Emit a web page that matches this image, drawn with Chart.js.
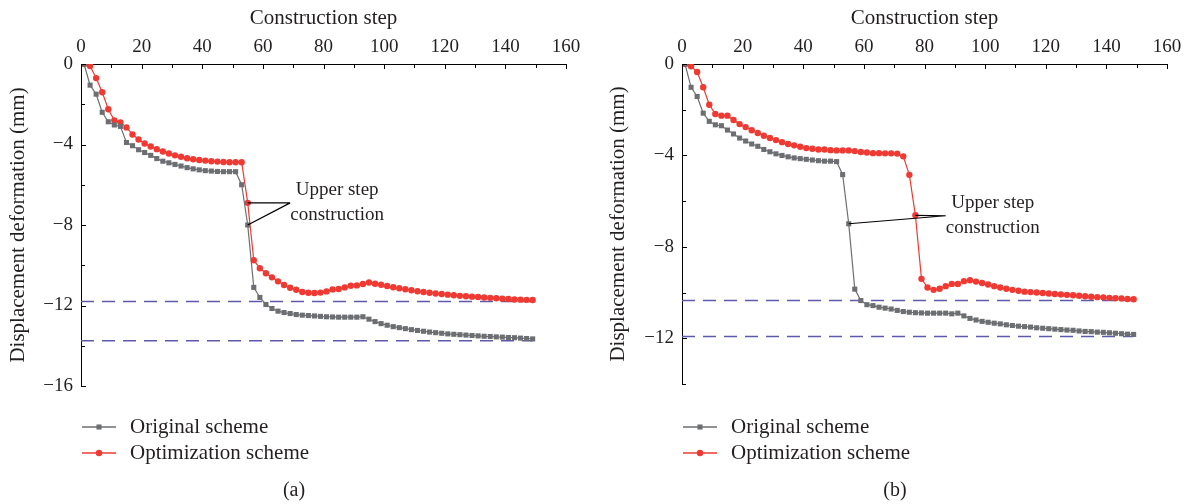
<!DOCTYPE html>
<html>
<head>
<meta charset="utf-8">
<script src="https://cdn.jsdelivr.net/npm/chart.js@4.4.0/dist/chart.umd.min.js"></script>
<style>
  body { margin: 0; width: 1191px; height: 504px; overflow: hidden; background: #fff; }
  .panel { position: absolute; top: 0; height: 504px; }
</style>
</head>
<body>
<div class="panel" style="left:0;width:600px"><canvas id="chartA" width="600" height="504"></canvas></div>
<div class="panel" style="left:600px;width:591px"><canvas id="chartB" width="591" height="504"></canvas></div>
<script>
// construction steps where results were recorded
const steps = [1, 3, 5, 7, 9, 11, 13, 15, 17, 19, 21, 23, 25, 27, 29, 31, 33, 35, 37, 39,
  41, 43, 45, 47, 49, 51, 53, 55, 57, 59, 61, 63, 65, 67, 69, 71, 73, 75, 77, 79,
  81, 83, 85, 87, 89, 91, 93, 95, 97, 99, 101, 103, 105, 107, 109, 111, 113, 115, 117, 119,
  121, 123, 125, 127, 129, 131, 133, 135, 137, 139, 141, 143, 145, 147, 149];

// (a) displacement, mm
const origA = [0, -1.05, -1.5, -2.4, -2.87, -3.03, -3.1, -3.9, -4.06, -4.26,
  -4.4, -4.54, -4.7, -4.83, -4.91, -4.99, -5.07, -5.15, -5.21, -5.26,
  -5.3, -5.32, -5.34, -5.35, -5.35, -5.35, -6.0, -8.0, -11.1, -11.6,
  -11.95, -12.15, -12.28, -12.35, -12.4, -12.45, -12.48, -12.5, -12.52, -12.54,
  -12.56, -12.57, -12.58, -12.58, -12.58, -12.58, -12.56, -12.68, -12.8, -12.9,
  -12.98, -13.05, -13.1, -13.15, -13.2, -13.24, -13.28, -13.32, -13.35, -13.38,
  -13.41, -13.43, -13.45, -13.47, -13.49, -13.51, -13.53, -13.54, -13.56, -13.57,
  -13.59, -13.6, -13.62, -13.64, -13.66];
const optA = [0, -0.1, -0.7, -1.4, -2.25, -2.8, -2.9, -3.15, -3.5, -3.75,
  -3.95, -4.1, -4.23, -4.35, -4.45, -4.54, -4.61, -4.68, -4.73, -4.77,
  -4.8, -4.83, -4.85, -4.87, -4.88, -4.88, -4.88, -6.9, -9.75, -10.15,
  -10.4, -10.6, -10.8, -10.98, -11.12, -11.22, -11.33, -11.37, -11.38, -11.36,
  -11.3, -11.2, -11.18, -11.1, -11.02, -11.0, -10.93, -10.86, -10.92, -10.97,
  -11.03, -11.09, -11.14, -11.19, -11.24, -11.29, -11.33, -11.37, -11.4, -11.43,
  -11.46, -11.49, -11.52, -11.54, -11.56, -11.58, -11.6, -11.62, -11.64, -11.66,
  -11.68, -11.7, -11.71, -11.72, -11.73];
const levelsA = [-11.8, -13.75];
const yTicksA = [0, -4, -8, -12, -16];

// (b) displacement, mm
const origB = [0, -1.02, -1.42, -2.15, -2.51, -2.66, -2.7, -2.89, -3.06, -3.24,
  -3.37, -3.5, -3.6, -3.74, -3.84, -3.93, -4.0, -4.06, -4.11, -4.14,
  -4.17, -4.2, -4.23, -4.25, -4.25, -4.27, -4.84, -6.99, -9.85, -10.35,
  -10.53, -10.57, -10.64, -10.68, -10.72, -10.78, -10.83, -10.86, -10.88, -10.89,
  -10.9, -10.9, -10.9, -10.9, -10.93, -10.9, -11.02, -11.13, -11.2, -11.26,
  -11.3, -11.34, -11.37, -11.41, -11.44, -11.47, -11.49, -11.51, -11.54, -11.56,
  -11.58, -11.6, -11.62, -11.64, -11.65, -11.68, -11.7, -11.71, -11.73, -11.74,
  -11.76, -11.78, -11.8, -11.82, -11.83];
const optB = [0, -0.1, -0.35, -1.02, -1.78, -2.19, -2.26, -2.26, -2.45, -2.63,
  -2.76, -2.9, -3.02, -3.14, -3.24, -3.33, -3.42, -3.5, -3.56, -3.62,
  -3.68, -3.71, -3.74, -3.74, -3.77, -3.78, -3.78, -3.78, -3.81, -3.85,
  -3.87, -3.9, -3.9, -3.91, -3.91, -3.92, -4.04, -4.85, -6.62, -9.4,
  -9.78, -9.88, -9.83, -9.72, -9.62, -9.62, -9.5, -9.46, -9.52, -9.58,
  -9.65, -9.72, -9.78, -9.83, -9.88, -9.92, -9.96, -9.98, -10.0, -10.02,
  -10.04, -10.06, -10.08, -10.1, -10.12, -10.14, -10.16, -10.18, -10.2, -10.21,
  -10.23, -10.25, -10.26, -10.28, -10.29];
const levelsB = [-10.35, -11.92];
const yTicksB = [0, -4, -8, -12];

const xTicks = [0, 20, 40, 60, 80, 100, 120, 140, 160];
const seriesNames = ['Original scheme', 'Optimization scheme'];
const noteText = ['Upper step', 'construction'];

const SERIF = '"Liberation Serif", "Times New Roman", serif';
const GRAY = '#6d6e71';
const RED = '#ee3a32';
const DASH = '#5d59ab';

function toPoints(ys) {
  return ys.map((y, i) => ({ x: steps[i], y: y }));
}

// inward tick marks on both axes
const innerTicks = {
  id: 'innerTicks',
  afterDraw(chart) {
    const { ctx, chartArea, scales } = chart;
    ctx.save();
    ctx.strokeStyle = '#000';
    ctx.lineWidth = 1;
    ctx.beginPath();
    for (let v = 0; v <= 160; v += 10) {
      const px = Math.round(scales.x.getPixelForValue(v)) + 0.5;
      const len = v % 20 === 0 ? 5 : 4;
      ctx.moveTo(px, chartArea.top);
      ctx.lineTo(px, chartArea.top + len);
    }
    for (let v = 0; v >= scales.y.min; v -= 2) {
      const py = Math.round(scales.y.getPixelForValue(v)) + 0.5;
      const len = v % 4 === 0 ? 5 : 4;
      ctx.moveTo(chartArea.left, py);
      ctx.lineTo(chartArea.left + len, py);
    }
    ctx.stroke();
    ctx.restore();
  }
};

// leader lines from the note to the points where the upper step starts
const stepNote = {
  id: 'stepNote',
  afterDatasetsDraw(chart, args, opts) {
    const { ctx, scales } = chart;
    const ax = scales.x.getPixelForValue(opts.at[0]);
    const ay = scales.y.getPixelForValue(opts.at[1]);
    ctx.save();
    ctx.strokeStyle = '#000';
    ctx.lineWidth = 1.2;
    ctx.beginPath();
    opts.targets.forEach(([ds, idx]) => {
      const p = chart.getDatasetMeta(ds).data[idx];
      ctx.moveTo(ax, ay);
      ctx.lineTo(p.x, p.y);
    });
    ctx.stroke();
    ctx.fillStyle = '#231f20';
    ctx.font = '19px ' + SERIF;
    ctx.textAlign = 'center';
    ctx.textBaseline = 'middle';
    ctx.fillText(noteText[0], ax + 47, ay - 13);
    ctx.fillText(noteText[1], ax + 47, ay + 12);
    ctx.restore();
  }
};

// legend and panel letter under the plot
const bottomKey = {
  id: 'bottomKey',
  afterDraw(chart, args, opts) {
    const { ctx, chartArea } = chart;
    const x0 = chartArea.left + 1;
    ctx.save();
    [0, 1].forEach(i => {
      const ds = chart.data.datasets[i];
      const y = 427 + i * 26;
      ctx.strokeStyle = ds.borderColor;
      ctx.lineWidth = 1.3;
      ctx.beginPath();
      ctx.moveTo(x0, y);
      ctx.lineTo(x0 + 34, y);
      ctx.stroke();
      ctx.fillStyle = ds.pointBackgroundColor;
      ctx.strokeStyle = ds.pointBackgroundColor;
      Chart.helpers.drawPoint(ctx, { pointStyle: ds.pointStyle, radius: ds.pointRadius, rotation: 0, borderWidth: 0 }, x0 + 17, y);
      ctx.fillStyle = '#231f20';
      ctx.font = '21px ' + SERIF;
      ctx.textAlign = 'left';
      ctx.textBaseline = 'middle';
      ctx.fillText(seriesNames[i], x0 + 48, y);
    });
    ctx.font = '20px ' + SERIF;
    ctx.textAlign = 'center';
    ctx.fillText(opts.letter, opts.letterX, 491);
    ctx.restore();
  }
};

function makeChart(id, orig, opt, levels, yMin, yTicks, bottomPad, rightPad, axisLeft, note, letter, letterX) {
  const datasets = [
    {
      label: seriesNames[0], data: toPoints(orig),
      borderColor: GRAY, backgroundColor: GRAY, pointBackgroundColor: GRAY,
      borderWidth: 1.2, pointStyle: 'rect', pointRadius: 3.6, pointBorderWidth: 0, tension: 0
    },
    {
      label: seriesNames[1], data: toPoints(opt),
      borderColor: RED, backgroundColor: RED, pointBackgroundColor: RED,
      borderWidth: 1.2, pointStyle: 'circle', pointRadius: 3.2, pointBorderWidth: 0, tension: 0
    }
  ];
  levels.forEach(v => {
    datasets.push({
      data: [{ x: 0, y: v }, { x: 149, y: v }],
      borderColor: DASH, borderWidth: 1.5, borderDash: [13, 8], pointRadius: 0
    });
  });

  return new Chart(document.getElementById(id), {
    type: 'line',
    data: { datasets: datasets },
    options: {
      responsive: false,
      animation: false,
      layout: { padding: { left: 0, top: 0, right: rightPad, bottom: bottomPad } },
      plugins: {
        legend: { display: false },
        tooltip: { enabled: false },
        stepNote: note,
        bottomKey: { letter: letter, letterX: letterX }
      },
      scales: {
        x: {
          type: 'linear', position: 'top', min: 0, max: 160,
          afterBuildTicks: s => { s.ticks = xTicks.map(v => ({ value: v })); },
          afterFit: s => { s.height = 64; },
          ticks: { color: '#231f20', font: { family: SERIF, size: 19 }, padding: 6, maxRotation: 0 },
          grid: { drawOnChartArea: false, drawTicks: false },
          border: { color: '#000', width: 1 },
          title: { display: true, text: 'Construction step', color: '#231f20',
                   font: { family: SERIF, size: 21 }, padding: { top: 6, bottom: 0 } }
        },
        y: {
          min: yMin, max: 0,
          afterBuildTicks: s => { s.ticks = yTicks.map(v => ({ value: v })); },
          afterFit: s => { s.width = axisLeft; },
          ticks: { color: '#231f20', font: { family: SERIF, size: 19 }, padding: 8,
                   callback: v => v < 0 ? '\u2212' + Math.abs(v) : String(v) },
          grid: { drawOnChartArea: false, drawTicks: false },
          border: { color: '#000', width: 1 },
          title: { display: true, text: 'Displacement deformation (mm)', color: '#231f20',
                   font: { family: SERIF, size: 21 }, padding: { top: 6, bottom: 0 } }
        }
      }
    },
    plugins: [innerTicks, stepNote, bottomKey]
  });
}

makeChart('chartA', origA, optA, levelsA, -16, yTicksA, 118, 34, 81,
  { at: [69, -6.9], targets: [[1, 27], [0, 27]] }, '(a)', 294);
makeChart('chartB', origB, optB, levelsB, -14, yTicksB, 120, 24, 82,
  { at: [87, -6.64], targets: [[1, 38], [0, 27]] }, '(b)', 295);
</script>
</body>
</html>
